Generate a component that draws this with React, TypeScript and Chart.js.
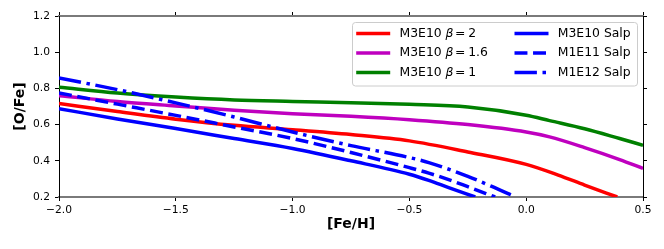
import React, { useEffect, useRef } from 'react';
import { Chart, registerables } from 'chart.js';

Chart.register(...registerables);

// ---- data ----
const FEH_TICKS = [-2.0, -1.5, -1.0, -0.5, 0.0, 0.5];
const OFE_TICKS = [0.2, 0.4, 0.6, 0.8, 1.0, 1.2];

const FEH_BETA2 = [-2, -1.75, -1.5, -1.25, -1, -0.75, -0.5, -0.25, 0, 0.137, 0.25, 0.39];
const OFE_BETA2 = [0.716, 0.672, 0.63, 0.596, 0.572, 0.545, 0.51, 0.449, 0.38, 0.321, 0.266, 0.2];

const FEH_BETA_GRID = [-2, -1.75, -1.5, -1.25, -1, -0.75, -0.5, -0.25, 0, 0.1, 0.25, 0.4, 0.5];
const OFE_BETA16 = [0.76, 0.728, 0.703, 0.679, 0.66, 0.646, 0.627, 0.6, 0.559, 0.532, 0.473, 0.407, 0.358];
const OFE_BETA1 = [0.806, 0.774, 0.752, 0.736, 0.728, 0.721, 0.712, 0.697, 0.652, 0.622, 0.577, 0.523, 0.486];

const FEH_M3E10_SALP = [-2, -1.75, -1.5, -1.25, -1, -0.75, -0.5, -0.417, -0.332, -0.218];
const OFE_M3E10_SALP = [0.688, 0.631, 0.578, 0.523, 0.468, 0.4, 0.326, 0.292, 0.252, 0.2];

const FEH_M1E11_SALP = [-2, -1.75, -1.5, -1.25, -1, -0.75, -0.5, -0.417, -0.332, -0.25, -0.133];
const OFE_M1E11_SALP = [0.775, 0.713, 0.651, 0.587, 0.523, 0.446, 0.362, 0.332, 0.296, 0.257, 0.2];

const FEH_M1E12_SALP = [-2, -1.75, -1.5, -1.25, -1, -0.75, -0.5, -0.417, -0.25, -0.15, -0.045];
const OFE_M1E12_SALP = [0.858, 0.793, 0.72, 0.642, 0.559, 0.484, 0.418, 0.39, 0.314, 0.26, 0.2];

const LEGEND_LABELS = ['M3E10 β=2', 'M3E10 β=1.6', 'M3E10 β=1', 'M3E10 Salp', 'M1E11 Salp', 'M1E12 Salp'];

const FONT = "'DejaVu Sans', sans-serif";
const LW = 3.5;
const DASHED = [3.7 * LW, 1.6 * LW];
const DASHDOT = [6.4 * LW, 1.6 * LW, 1.0 * LW, 1.6 * LW];

const zip = (xs: number[], ys: number[]) => xs.map((x, i) => ({ x, y: ys[i] }));
const fmt = (v: number) => v.toFixed(1).replace('-', '\u2212');

const legendPlugin = {
  id: 'mplLegend',
  afterDatasetsDraw(chart: any) {
    const ctx: CanvasRenderingContext2D = chart.ctx;
    const area = chart.chartArea;
    const right = area.right - 5.5;
    const left = right - 285;
    const top = area.top + 6.5;
    const bottom = top + 63.5;
    const r = 3;
    ctx.save();
    ctx.beginPath();
    ctx.moveTo(left + r, top);
    ctx.lineTo(right - r, top);
    ctx.arcTo(right, top, right, top + r, r);
    ctx.lineTo(right, bottom - r);
    ctx.arcTo(right, bottom, right - r, bottom, r);
    ctx.lineTo(left + r, bottom);
    ctx.arcTo(left, bottom, left, bottom - r, r);
    ctx.lineTo(left, top + r);
    ctx.arcTo(left, top, left + r, top, r);
    ctx.closePath();
    ctx.fillStyle = 'rgba(255,255,255,0.8)';
    ctx.fill();
    ctx.strokeStyle = '#cccccc';
    ctx.lineWidth = 1;
    ctx.stroke();

    const fs = 12.4;
    chart.data.datasets.forEach((ds: any, i: number) => {
      const col = i < 3 ? 0 : 1;
      const row = i % 3;
      const y = top + 11 + row * 19.5;
      const lx = left + 3.7 + col * 158.3;
      ctx.beginPath();
      ctx.setLineDash(ds.borderDash || []);
      ctx.lineCap = 'butt';
      ctx.strokeStyle = ds.borderColor;
      ctx.lineWidth = ds.borderWidth;
      ctx.moveTo(lx, y);
      ctx.lineTo(lx + 34, y);
      ctx.stroke();
      ctx.setLineDash([]);

      const label: string = LEGEND_LABELS[i];
      let tx = lx + 43.3;
      ctx.fillStyle = '#000';
      ctx.textBaseline = 'middle';
      ctx.textAlign = 'left';
      const bi = label.indexOf('β');
      if (bi >= 0) {
        const pre = label.slice(0, bi);
        const post = label.slice(bi + 1).split('=');
        ctx.font = `${fs}px ${FONT}`;
        ctx.fillText(pre, tx, y);
        tx += ctx.measureText(pre).width;
        ctx.font = `italic ${fs}px ${FONT}`;
        ctx.fillText('β', tx, y);
        tx += ctx.measureText('β').width + 1.5;
        ctx.font = `${fs}px ${FONT}`;
        ctx.fillText('=', tx, y);
        tx += ctx.measureText('=').width + 2.8;
        ctx.fillText(post[1], tx, y);
      } else {
        ctx.font = `${fs}px ${FONT}`;
        ctx.fillText(label, tx, y);
      }
    });
    ctx.restore();
  },
};

export default function App() {
  const ref = useRef<HTMLCanvasElement | null>(null);

  useEffect(() => {
    if (!ref.current) return;
    const mk = (xs: number[], ys: number[], color: string, dash: number[] | undefined, order: number) => ({
      data: zip(xs, ys),
      borderColor: color,
      backgroundColor: color,
      borderWidth: LW,
      borderDash: dash,
      borderCapStyle: 'butt' as const,
      pointRadius: 0,
      pointHoverRadius: 0,
      cubicInterpolationMode: 'monotone' as const,
      fill: false,
      clip: 0,
      order,
    });

    const tickFont = { family: FONT, size: 10.7 };
    const chart = new Chart(ref.current, {
      type: 'line',
      data: {
        datasets: [
          mk(FEH_BETA2, OFE_BETA2, '#ff0000', undefined, 6),
          mk(FEH_BETA_GRID, OFE_BETA16, '#bf00bf', undefined, 5),
          mk(FEH_BETA_GRID, OFE_BETA1, '#008000', undefined, 4),
          mk(FEH_M3E10_SALP, OFE_M3E10_SALP, '#0000ff', undefined, 3),
          mk(FEH_M1E11_SALP, OFE_M1E11_SALP, '#0000ff', DASHED, 2),
          mk(FEH_M1E12_SALP, OFE_M1E12_SALP, '#0000ff', DASHDOT, 1),
        ] as any,
      },
      options: {
        animation: false,
        responsive: false,
        devicePixelRatio: 1,
        layout: { padding: 0 },
        plugins: { legend: { display: false }, tooltip: { enabled: false } },
        events: [],
        scales: {
          x: {
            type: 'linear',
            position: 'bottom',
            min: -2,
            max: 0.5,
            afterBuildTicks: (s: any) => { s.ticks = FEH_TICKS.map((v) => ({ value: v })); },
            afterFit: (s: any) => { s.height = 52; },
            ticks: { font: tickFont, color: '#000', padding: 3, maxRotation: 0, autoSkip: false, callback: (v: any) => fmt(Number(v)) },
            grid: { drawOnChartArea: false, drawTicks: true, tickLength: 4, tickColor: '#000', tickWidth: 1 },
            border: { display: true, color: '#7a7a7a', width: 2 },
            title: { display: true, text: '[Fe/H]', color: '#000', font: { family: FONT, size: 14, weight: 'bold' }, padding: { top: 0, bottom: 16.4 } },
          },
          x2: {
            type: 'linear',
            position: 'top',
            min: -2,
            max: 0.5,
            afterBuildTicks: (s: any) => { s.ticks = FEH_TICKS.map((v) => ({ value: v })); },
            afterFit: (s: any) => { s.height = 16; },
            ticks: { display: true, font: tickFont, callback: () => '' },
            grid: { drawOnChartArea: false, drawTicks: true, tickLength: 4, tickColor: '#000', tickWidth: 1 },
            border: { display: true, color: '#7a7a7a', width: 2 },
          },
          y: {
            type: 'linear',
            position: 'left',
            min: 0.2,
            max: 1.2,
            afterBuildTicks: (s: any) => { s.ticks = OFE_TICKS.map((v) => ({ value: v })); },
            afterFit: (s: any) => { s.width = 59; },
            ticks: { font: tickFont, color: '#000', padding: 5, autoSkip: false, callback: (v: any) => fmt(Number(v)) },
            grid: { drawOnChartArea: false, drawTicks: true, tickLength: 4, tickColor: '#000', tickWidth: 1 },
            border: { display: true, color: '#000', width: 1 },
            title: { display: true, text: '[O/Fe]', color: '#000', font: { family: FONT, size: 14, weight: 'bold' }, padding: { top: 12, bottom: 0 } },
          },
          y2: {
            type: 'linear',
            position: 'right',
            min: 0.2,
            max: 1.2,
            afterBuildTicks: (s: any) => { s.ticks = OFE_TICKS.map((v) => ({ value: v })); },
            afterFit: (s: any) => { s.width = 21; },
            ticks: { display: true, font: tickFont, callback: () => '' },
            grid: { drawOnChartArea: false, drawTicks: true, tickLength: 4, tickColor: '#000', tickWidth: 1 },
            border: { display: true, color: '#000', width: 1 },
          },
        },
      } as any,
      plugins: [legendPlugin],
    });
    return () => chart.destroy();
  }, []);

  return (
    <div style={{ position: 'fixed', left: 0, top: 0, width: 664, height: 249, background: '#fff' }}>
      <canvas ref={ref} width={664} height={249} style={{ display: 'block', width: 664, height: 249 }} />
    </div>
  );
}
